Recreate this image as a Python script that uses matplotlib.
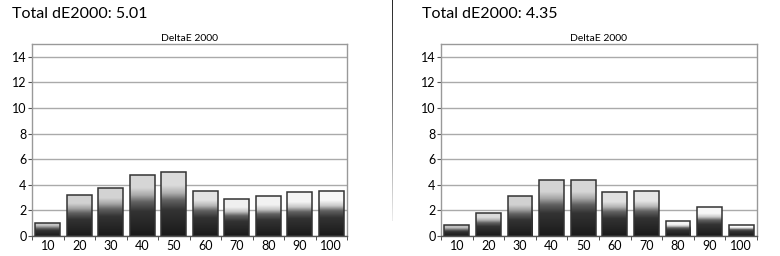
import numpy as np
import matplotlib
matplotlib.use("Agg")
import matplotlib.pyplot as plt
from matplotlib.collections import LineCollection

plt.rcParams['font.family'] = ['Lato', 'DejaVu Sans']

# data
categories = ["10", "20", "30", "40", "50", "60", "70", "80", "90", "100"]
left_values = [1.05, 3.23, 3.78, 4.8, 5.03, 3.55, 2.88, 3.1, 3.4, 3.55]
right_values = [0.85, 1.83, 3.1, 4.41, 4.41, 3.4, 3.48, 1.15, 2.25, 0.87]
left_total = "Total dE2000: 5.01"
right_total = "Total dE2000: 4.35"
chart_title = "DeltaE 2000"
y_ticks = [0, 2, 4, 6, 8, 10, 12, 14]

# top shade of each bar's gradient (style)
left_shades = [0.78, 0.82, 0.83, 0.84, 0.86, 0.89, 0.94, 0.95, 0.96, 0.97]
right_shades = [0.76, 0.86, 0.82, 0.83, 0.84, 0.88, 0.9, 0.96, 0.97, 1.0]


def gradient_bar(ax, x, h, width, top):
    oBar = ax.bar(x, h, width=width, color='none', edgecolor='#333333',
                  linewidth=1.1, zorder=3)[0]
    f = np.linspace(1, 0, 200)  # image row 0 is the top
    vals = np.interp(f, [0, 0.4, 0.55, 0.66, 0.78, 1],
                     [0.1, 0.2, 0.38, top - 0.18, top, top])
    img = np.dstack([vals, vals, vals]).reshape(200, 1, 3)
    im = ax.imshow(img, extent=[x - width / 2, x + width / 2, 0, h],
                   aspect='auto', zorder=2, interpolation='bilinear')
    im.set_clip_path(oBar)


def draw_panel(ax, values, shades, total, fig, title_x):
    x = np.arange(len(categories))
    for i, v in enumerate(values):
        gradient_bar(ax, x[i], v, 0.78, shades[i])
    ax.set_xlim(-0.5, len(categories) - 0.5)
    ax.set_ylim(0, 15)
    ax.set_yticks(y_ticks)
    ax.set_yticklabels([str(t) for t in y_ticks], fontsize=9)
    ax.set_xticks(x)
    ax.set_xticklabels(categories, fontsize=9)
    ax.tick_params(axis='x', length=0, pad=3)
    ax.set_xticks(np.arange(-0.5, len(categories)), minor=True)
    ax.tick_params(axis='x', which='minor', length=3, direction='out', color='#333333')
    ax.tick_params(axis='y', length=3, direction='out', color='#555555', pad=1)
    ax.yaxis.grid(True, color='#aaaaaa', linewidth=1)
    ax.set_axisbelow(True)
    for s in ax.spines.values():
        s.set_color('#999999')
        s.set_linewidth(1)
    ax.spines['bottom'].set_color('#555555')
    ax.set_title(chart_title, fontsize=7.5, pad=2)
    fig.text(title_x, 1 - 18 / 256, total, fontsize=11.5, ha='left', va='baseline')
    ax.set_facecolor('white')


fig = plt.figure(figsize=(7.8, 2.56), dpi=100)
ax1 = fig.add_axes([32 / 780, 1 - 236 / 256, 315 / 780, 192 / 256])
ax2 = fig.add_axes([441 / 780, 1 - 236 / 256, 316 / 780, 192 / 256])
draw_panel(ax1, left_values, left_shades, left_total, fig, 12 / 780)
draw_panel(ax2, right_values, right_shades, right_total, fig, 422 / 780)

# fading divider between the two screenshots
ys = np.linspace(1, 1 - 220 / 256, 221)
segs = [[(391.5 / 780, ys[k]), (391.5 / 780, ys[k + 1])] for k in range(len(ys) - 1)]
greys = np.interp(np.linspace(0, 1, len(segs)), [0, 0.4, 1], [0.15, 0.4, 0.92])
lc = LineCollection(segs, colors=[(g, g, g) for g in greys], linewidths=0.72,
                    transform=fig.transFigure, antialiaseds=False, capstyle='projecting')
fig.add_artist(lc)

fig.savefig("out.png", dpi=100)
